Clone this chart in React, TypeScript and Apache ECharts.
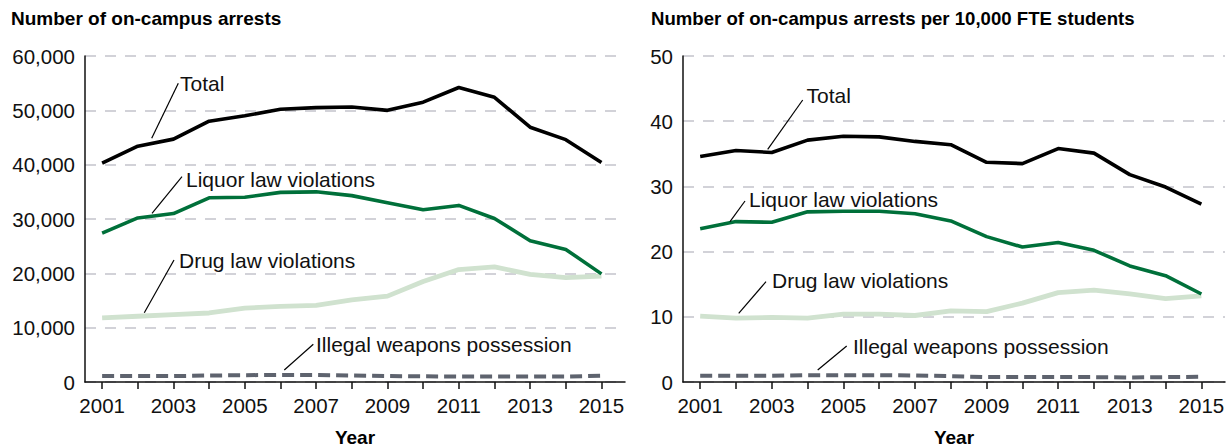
import React, { useEffect, useRef } from "react";
import * as echarts from "echarts";

const years = [2001, 2002, 2003, 2004, 2005, 2006, 2007, 2008, 2009, 2010, 2011, 2012, 2013, 2014, 2015];
const yearLabels = [2001, 2003, 2005, 2007, 2009, 2011, 2013, 2015];

// Left: number of on-campus arrests
const totalCount = [40300, 43400, 44700, 48000, 49000, 50200, 50500, 50600, 50000, 51500, 54200, 52400, 46900, 44600, 40400];
const liquorCount = [27400, 30200, 31000, 33900, 34000, 34900, 35000, 34300, 33000, 31700, 32500, 30100, 26000, 24400, 19900];
const drugCount = [11800, 12100, 12400, 12700, 13600, 13900, 14100, 15100, 15800, 18500, 20700, 21200, 19800, 19200, 19500];
const weaponsCount = [1100, 1100, 1080, 1200, 1250, 1300, 1300, 1200, 1100, 1050, 1000, 1000, 1000, 1000, 1150];

// Right: arrests per 10,000 FTE students
const totalRate = [34.6, 35.5, 35.2, 37.1, 37.7, 37.6, 36.9, 36.4, 33.7, 33.5, 35.8, 35.1, 31.8, 29.9, 27.3];
const liquorRate = [23.5, 24.6, 24.5, 26.1, 26.2, 26.2, 25.8, 24.7, 22.3, 20.7, 21.4, 20.2, 17.8, 16.3, 13.5];
const drugRate = [10.1, 9.8, 9.9, 9.8, 10.4, 10.4, 10.2, 10.9, 10.8, 12.1, 13.7, 14.1, 13.5, 12.8, 13.2];
const weaponsRate = [0.95, 0.95, 0.95, 1.05, 1.05, 1.05, 1.0, 0.9, 0.75, 0.75, 0.75, 0.75, 0.7, 0.75, 0.8];

const leftTitle = "Number of on-campus arrests";
const rightTitle = "Number of on-campus arrests per 10,000 FTE students";
const seriesNames = ["Total", "Liquor law violations", "Drug law violations", "Illegal weapons possession"];

const FONT = "Liberation Sans, Arial, Helvetica, sans-serif";

export default function App() {
  const ref = useRef<HTMLDivElement>(null);
  useEffect(() => {
    if (!ref.current) return;
    const chart = echarts.init(ref.current, null, { renderer: "svg" });
    const pair = (vals: number[]) => years.map((y, i) => [y, vals[i]]);

    const xAxis = (gridIndex: number) => ({
      type: "value" as const,
      gridIndex,
      min: 2000.52,
      max: 2015.66,
      name: "Year",
      nameLocation: "middle" as const,
      nameGap: 46,
      nameTextStyle: { fontFamily: FONT, fontSize: 19, fontWeight: "bold", color: "#000" },
      axisLine: { show: true, lineStyle: { color: "#111", width: 1.5 } },
      axisTick: { show: true, length: 7, lineStyle: { color: "#111", width: 1.5 }, customValues: years },
      axisLabel: {
        customValues: yearLabels,
        fontFamily: FONT,
        fontSize: 20.5,
        color: "#111",
        margin: 13,
        formatter: (v: number) => String(Math.round(v)),
      },
      splitLine: { show: false },
    });

    const yAxis = (gridIndex: number, max: number, interval: number, comma: boolean) => ({
      type: "value" as const,
      gridIndex,
      min: 0,
      max,
      interval,
      axisLine: { show: true, lineStyle: { color: "#111", width: 1.5 } },
      axisTick: { show: false },
      axisLabel: {
        fontFamily: FONT,
        fontSize: 20.5,
        color: "#111",
        margin: 10,
        formatter: (v: number) => (comma ? v.toLocaleString("en-US") : String(v)),
      },
      splitLine: { show: true, lineStyle: { color: "#c4c4cc", width: 1.5, type: [11, 9] } },
    });

    const lineSeries = (name: string, data: number[][], idx: number, color: string, width: number, dashed?: boolean) => ({
      type: "line" as const,
      name,
      xAxisIndex: idx,
      yAxisIndex: idx,
      data,
      showSymbol: false,
      symbol: "none",
      lineStyle: { color, width, type: dashed ? [12, 6] : "solid", join: "round" as const },
      z: 3,
    });

    const C_TOTAL = "#000000";
    const C_LIQ = "#00703a";
    const C_DRUG = "#d0e2cf";
    const C_WEAP = "#5e636e";

    const ann = (x1: number, y1: number, x2: number, y2: number, tx: number, ty: number, text: string) => [
      { type: "line", shape: { x1, y1, x2, y2 }, style: { stroke: "#000", lineWidth: 1.2 }, z: 10 },
      {
        type: "text",
        x: tx,
        y: ty,
        style: { text, font: `21px ${FONT}`, fill: "#111", verticalAlign: "middle", textAlign: "left" },
        z: 10,
      },
    ];

    chart.setOption({
      animation: false,
      backgroundColor: "#fff",
      grid: [
        { left: 85, top: 56, width: 540, height: 326, containLabel: false, outerBoundsMode: "none" },
        { left: 683, top: 56, width: 542, height: 326, containLabel: false, outerBoundsMode: "none" },
      ],
      xAxis: [xAxis(0), xAxis(1)],
      yAxis: [yAxis(0, 60000, 10000, true), yAxis(1, 50, 10, false)],
      series: [
        lineSeries(seriesNames[3], pair(weaponsCount), 0, C_WEAP, 4, true),
        lineSeries(seriesNames[2], pair(drugCount), 0, C_DRUG, 4.8),
        lineSeries(seriesNames[1], pair(liquorCount), 0, C_LIQ, 3.6),
        lineSeries(seriesNames[0], pair(totalCount), 0, C_TOTAL, 3.6),
        lineSeries(seriesNames[3], pair(weaponsRate), 1, C_WEAP, 4, true),
        lineSeries(seriesNames[2], pair(drugRate), 1, C_DRUG, 4.8),
        lineSeries(seriesNames[1], pair(liquorRate), 1, C_LIQ, 3.6),
        lineSeries(seriesNames[0], pair(totalRate), 1, C_TOTAL, 3.6),
      ],
      graphic: [
        {
          type: "text",
          x: 11,
          y: 18,
          style: { text: leftTitle, font: `bold 19px ${FONT}`, fill: "#000", verticalAlign: "middle" },
        },
        {
          type: "text",
          x: 651,
          y: 18,
          style: { text: rightTitle, font: `bold 18.6px ${FONT}`, fill: "#000", verticalAlign: "middle" },
        },
        ...ann(151.7, 138.3, 178.3, 83.3, 180, 83, seriesNames[0]),
        ...ann(152, 213.3, 182, 176.7, 186, 179, seriesNames[1]),
        ...ann(144.3, 312.7, 174, 260, 179, 260.5, seriesNames[2]),
        ...ann(284.3, 370, 313.3, 344.3, 316, 344.3, seriesNames[3]),
        ...ann(767.7, 149.3, 802.7, 100, 806.5, 95, seriesNames[0]),
        ...ann(730, 221.7, 745, 201, 749, 199.3, seriesNames[1]),
        ...ann(738.7, 313.3, 766, 281.7, 772, 280.7, seriesNames[2]),
        ...ann(817.7, 370, 846.7, 346, 853, 346.7, seriesNames[3]),
      ],
    });
    return () => chart.dispose();
  }, []);

  return (
    <div
      ref={ref}
      style={{ position: "fixed", left: 0, top: 0, width: 1227, height: 447, background: "#fff" }}
    />
  );
}
